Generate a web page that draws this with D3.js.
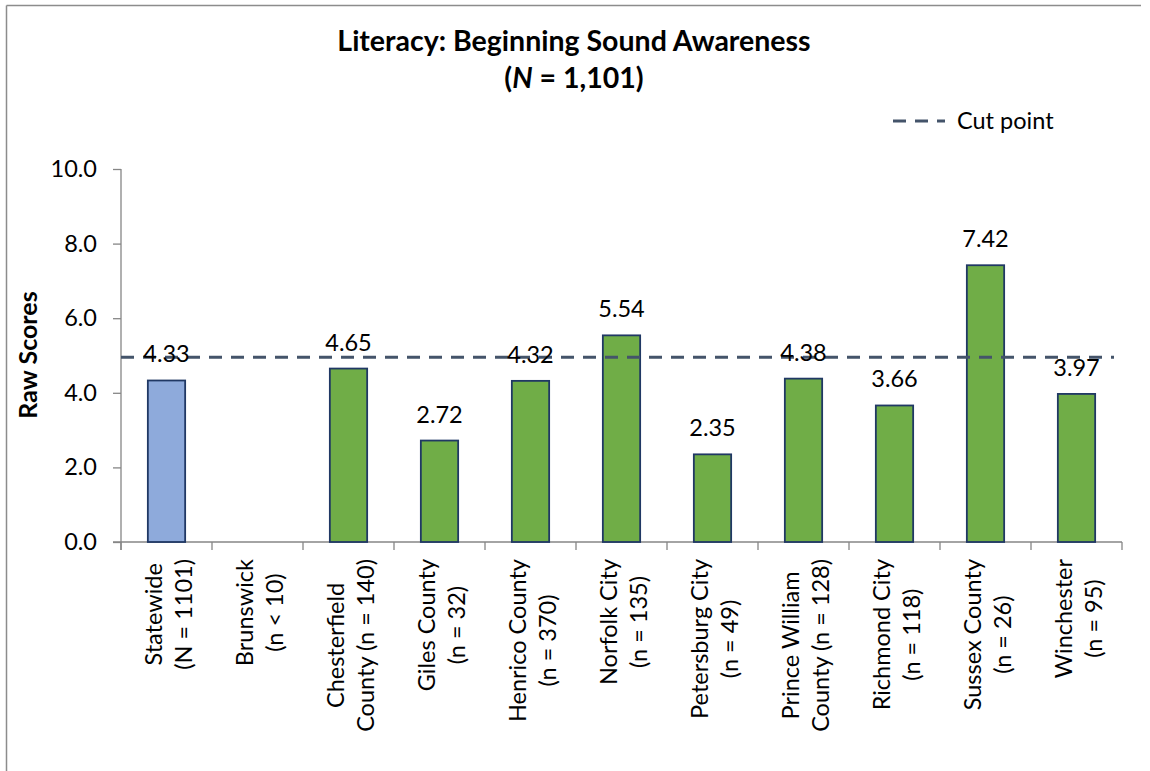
<!DOCTYPE html>
<html>
<head>
<meta charset="utf-8">
<script src="https://cdn.jsdelivr.net/npm/d3@7"></script>
<style>
  html, body { margin: 0; padding: 0; background: #fff; }
  svg { display: block; }
  text { font-family: Lato, "Open Sans", sans-serif; fill: #000; }
</style>
</head>
<body>
<svg id="chart" width="1150" height="771"></svg>
<script>
// Category labels (two lines each) and mean raw scores
const categoryLine1 = ["Statewide", "Brunswick", "Chesterfield", "Giles County", "Henrico County",
  "Norfolk City", "Petersburg City", "Prince William", "Richmond City", "Sussex County", "Winchester"];
const categoryLine2 = ["(N = 1101)", "(n < 10)", "County (n = 140)", "(n = 32)", "(n = 370)",
  "(n = 135)", "(n = 49)", "County (n = 128)", "(n = 118)", "(n = 26)", "(n = 95)"];
const scores = [4.33, null, 4.65, 2.72, 4.32, 5.54, 2.35, 4.38, 3.66, 7.42, 3.97];
const cutPoint = 4.95;
const yTicks = [0, 2, 4, 6, 8, 10];
const titleLines = ["Literacy: Beginning Sound Awareness", "(N = 1,101)"];

const svg = d3.select("#chart");
const plot = { left: 121, right: 1122, top: 169, bottom: 542 };
const axisFont = "23.5px";

// Outer frame (top and left edges visible)
svg.append("line").attr("x1", 6.5).attr("x2", 1141).attr("y1", 5.5).attr("y2", 5.5)
  .attr("stroke", "#8c8c8c").attr("stroke-width", 1.5);
svg.append("line").attr("x1", 6.5).attr("x2", 6.5).attr("y1", 5.5).attr("y2", 771)
  .attr("stroke", "#8c8c8c").attr("stroke-width", 1.5);

const x = d3.scaleBand().domain(d3.range(categoryLine1.length))
  .range([plot.left, plot.right]).paddingInner(0.59).paddingOuter(0.295);
const y = d3.scaleLinear().domain([0, 10]).range([plot.bottom, plot.top]);

// Title
const title = svg.append("text").attr("text-anchor", "middle")
  .style("font-weight", "bold").style("font-size", "28.5px");
title.append("tspan").attr("x", 574).attr("y", 51).text(titleLines[0]);
const t2 = title.append("tspan").attr("x", 574).attr("y", 88);
t2.append("tspan").text("(");
t2.append("tspan").style("font-style", "italic").text("N");
t2.append("tspan").text(" = 1,101)");

// Y axis
const yAxis = svg.append("g").attr("transform", `translate(${plot.left},0)`)
  .call(d3.axisLeft(y).tickValues(yTicks).tickFormat(d3.format(".1f")).tickSize(8).tickPadding(16));
yAxis.select(".domain").attr("d", `M0,${plot.top}V${plot.bottom + 8}`);
yAxis.selectAll("line, .domain").attr("stroke", "#868686").attr("stroke-width", 1.3);
yAxis.selectAll("text").style("font-size", axisFont).style("font-family", "Lato, sans-serif").attr("fill", "#000");

// X axis baseline and category separator ticks
const xAxisG = svg.append("g");
xAxisG.append("line").attr("x1", plot.left - 8).attr("x2", plot.right)
  .attr("y1", plot.bottom).attr("y2", plot.bottom).attr("stroke", "#868686").attr("stroke-width", 1.3);
const step = x.step();
const boundaries = d3.range(categoryLine1.length + 1).map(i => x(0) - x.paddingOuter() * step + i * step);
xAxisG.selectAll(".sep").data(boundaries).join("line")
  .attr("x1", d => d).attr("x2", d => d)
  .attr("y1", plot.bottom).attr("y2", plot.bottom + 8)
  .attr("stroke", "#868686").attr("stroke-width", 1.3);

// Y axis title
svg.append("text").attr("transform", "translate(37,355) rotate(-90)")
  .attr("text-anchor", "middle").style("font-weight", "bold").style("font-size", "25px")
  .text("Raw Scores");

// Bars
const data = scores.map((v, i) => ({ i, v }));
svg.append("g").selectAll("rect").data(data.filter(d => d.v != null)).join("rect")
  .attr("x", d => x(d.i)).attr("width", x.bandwidth())
  .attr("y", d => y(d.v)).attr("height", d => y(0) - y(d.v))
  .attr("fill", d => d.i === 0 ? "#8eaadb" : "#70ad47")
  .attr("stroke", "#203864").attr("stroke-width", 1.8);

// Cut point line
svg.append("line").attr("x1", plot.left).attr("x2", 1114)
  .attr("y1", y(cutPoint)).attr("y2", y(cutPoint))
  .attr("stroke", "#44546a").attr("stroke-width", 3).attr("stroke-dasharray", "13,9");

// Value labels
svg.append("g").selectAll("text").data(data.filter(d => d.v != null)).join("text")
  .attr("x", d => x(d.i) + x.bandwidth() / 2).attr("y", d => y(d.v) - 18)
  .attr("text-anchor", "middle").style("font-size", axisFont)
  .text(d => d.v.toFixed(2));

// Category labels: rotated two-line blocks, lines centred within the block
const labelTop = plot.bottom + 17;
categoryLine1.forEach((l1, i) => {
  const cx = x(i) + x.bandwidth() / 2;
  const g = svg.append("g");
  const a = g.append("text").style("font-size", axisFont).attr("text-anchor", "middle").text(l1);
  const b = g.append("text").style("font-size", axisFont).attr("text-anchor", "middle").text(categoryLine2[i]);
  const w = Math.max(a.node().getComputedTextLength(), b.node().getComputedTextLength());
  const mid = labelTop + w / 2;
  a.attr("transform", `translate(${cx - 5},${mid}) rotate(-90)`);
  b.attr("transform", `translate(${cx + 25},${mid}) rotate(-90)`);
});

// Legend
const lg = svg.append("g");
lg.append("line").attr("x1", 893).attr("x2", 945).attr("y1", 121).attr("y2", 121)
  .attr("stroke", "#44546a").attr("stroke-width", 3).attr("stroke-dasharray", "13,9");
lg.append("text").attr("x", 957).attr("y", 129).style("font-size", axisFont).text("Cut point");
</script>
</body>
</html>
